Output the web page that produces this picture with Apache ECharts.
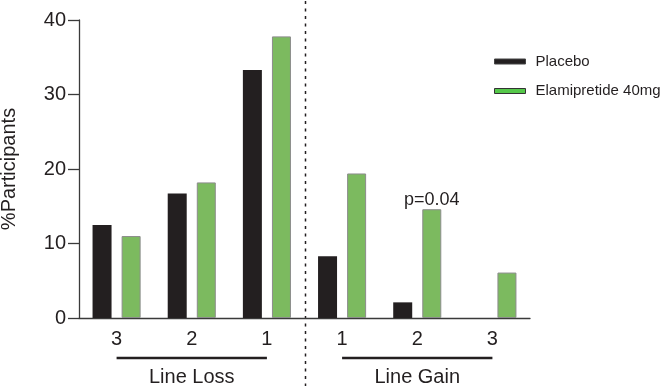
<!DOCTYPE html>
<html>
<head>
<meta charset="utf-8">
<script src="https://cdn.jsdelivr.net/npm/echarts@6/dist/echarts.min.js"></script>
<style>
  html, body { margin: 0; padding: 0; background: #fff; }
  #chart { width: 664px; height: 386px; }
</style>
</head>
<body>
<div id="chart"></div>
<script>
const categories = ['3', '2', '1', '1', '2', '3'];
const placebo = [12.5, 16.7, 33.3, 8.3, 2.1, 0];
const elamipretide = [11.0, 18.2, 37.8, 19.4, 14.6, 6.1];
const pValues = [null, null, null, null, 'p=0.04', null];
const groups = ['Line Loss', 'Line Gain'];

const font = 'Liberation Sans, Arial, sans-serif';
const ink = '#231f20';
const axisColor = '#3a3a3a';

const chart = echarts.init(document.getElementById('chart'));

chart.setOption({
  animation: false,
  grid: { left: 79, right: 134, top: 20, bottom: 68, containLabel: false, outerBoundsMode: 'none' },
  legend: {
    orient: 'vertical',
    left: 489,
    top: 49,
    itemWidth: 31,
    itemHeight: 5,
    itemGap: 14.5,
    icon: 'rect',
    textStyle: { fontSize: 15, color: ink, fontFamily: font, padding: [0, 0, 0, 5] },
    data: [
      { name: 'Placebo', itemStyle: { color: ink, borderColor: '#444', borderWidth: 1 } },
      { name: 'Elamipretide 40mg', itemStyle: { color: '#55c84a', borderColor: '#333', borderWidth: 1 } }
    ]
  },
  xAxis: {
    type: 'category',
    data: categories,
    axisLine: { lineStyle: { color: axisColor, width: 1.3 } },
    axisTick: { alignWithLabel: true, length: 7, lineStyle: { color: axisColor, width: 1.3 } },
    axisLabel: { margin: 11, fontSize: 20, color: ink, fontFamily: font }
  },
  yAxis: {
    type: 'value',
    min: 0,
    max: 40,
    interval: 10,
    name: '%Participants',
    nameLocation: 'middle',
    nameGap: 60,
    nameTextStyle: { fontSize: 20, color: ink, fontFamily: font },
    axisLine: { show: true, lineStyle: { color: axisColor, width: 1.3 } },
    axisTick: { show: true, length: 11, lineStyle: { color: axisColor, width: 1.3 } },
    axisLabel: { margin: 13, fontSize: 20, color: ink, fontFamily: font },
    splitLine: { show: false }
  },
  series: [
    {
      name: 'Placebo',
      type: 'bar',
      data: placebo,
      barWidth: 19,
      barGap: '53%',
      itemStyle: { color: ink, borderWidth: 0 }
    },
    {
      name: 'Elamipretide 40mg',
      type: 'bar',
      barWidth: 19,
      // p value sits on top of the bar
      data: elamipretide.map((v, i) => pValues[i] ? {
        value: v,
        label: {
          show: true, position: 'top', distance: 0, formatter: pValues[i],
          fontSize: 18, color: ink, fontFamily: font, textBorderWidth: 0
        }
      } : v),
      itemStyle: { color: '#7cba5f', borderColor: '#8c8c8c', borderWidth: 1 }
    }
  ]
});

// group labels, underlines and dotted divider placed from the axis scale
const px = i => chart.convertToPixel({ xAxisIndex: 0 }, i);
const divX = (px(2) + px(3)) / 2 + 1;
const elements = [];
[[0, 2], [3, 5]].forEach((r, g) => {
  const x1 = px(r[0]), x2 = px(r[1]);
  elements.push({
    type: 'line',
    shape: { x1: x1, y1: 358, x2: x2, y2: 358 },
    style: { stroke: ink, lineWidth: 2.5 }
  });
  elements.push({
    type: 'text',
    x: (x1 + x2) / 2,
    y: 377,
    style: { text: groups[g], fontSize: 20, fontFamily: font, fill: ink, align: 'center', verticalAlign: 'middle' }
  });
});
elements.push({
  type: 'line',
  shape: { x1: divX, y1: 1, x2: divX, y2: 386 },
  style: { stroke: ink, lineWidth: 1.5, lineDash: [3, 4.5] }
});
chart.setOption({ graphic: elements });
</script>
</body>
</html>
